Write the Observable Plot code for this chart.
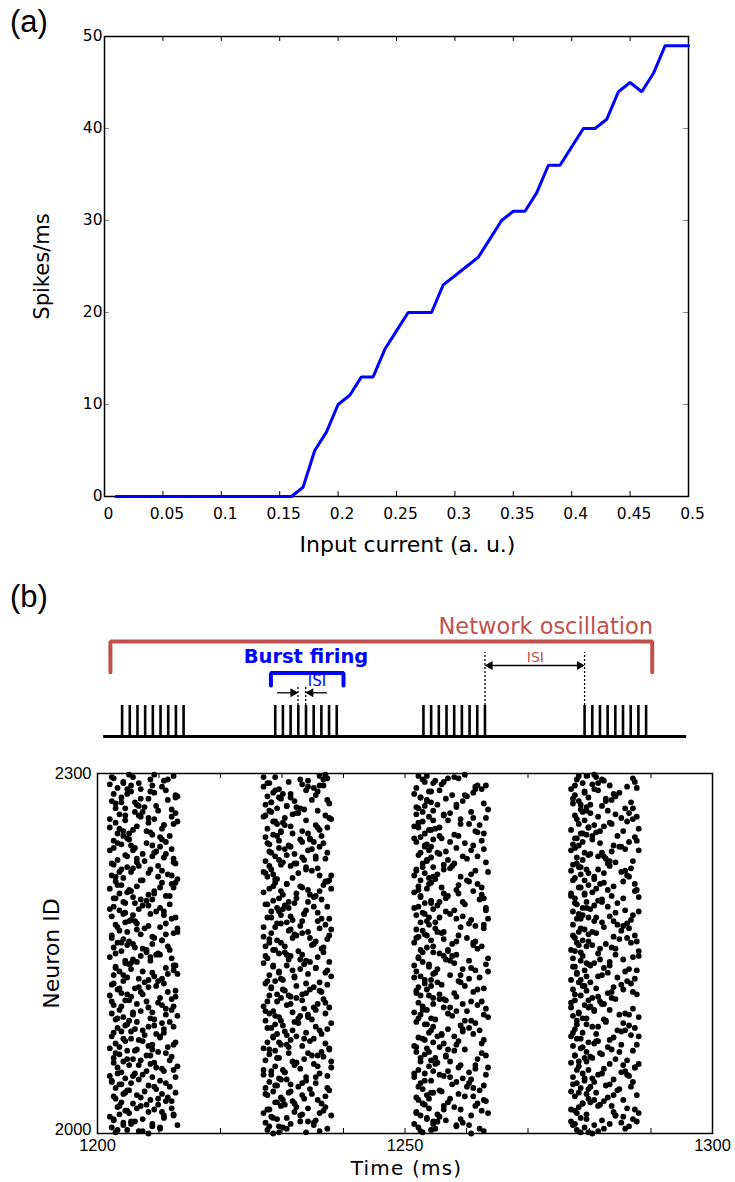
<!DOCTYPE html>
<html><head><meta charset="utf-8">
<script src="https://cdn.jsdelivr.net/npm/d3@7"></script>
<script src="https://cdn.jsdelivr.net/npm/@observablehq/plot@0.6"></script>
<style>
body{margin:0;background:#fff;}
#wrap{position:relative;width:735px;height:1182px;overflow:hidden;background:#fff;}
.panel{position:absolute;left:0;}
.tag{position:absolute;font-family:"Liberation Sans",Arial,sans-serif;font-size:31px;color:#000;line-height:1;}
</style></head><body>
<div id="wrap">
  <div class="tag" style="left:10px;top:6px">(a)</div>
  <div class="tag" style="left:10px;top:581px">(b)</div>
  <div class="panel" id="pa" style="top:0px"></div>
  <div class="panel" id="ps" style="top:600px"></div>
  <div class="panel" id="pr" style="top:745px"></div>
</div>
<script>
// ---------- Panel (a): firing rate vs input current ----------
const current = [0.01,0.02,0.03,0.04,0.05,0.06,0.07,0.08,0.09,0.10,0.11,0.12,0.13,0.14,0.15,0.16,0.17,0.18,0.19,0.20,
                 0.21,0.22,0.23,0.24,0.25,0.26,0.27,0.28,0.29,0.30,0.31,0.32,0.33,0.34,0.35,0.36,0.37,0.38,0.39,0.40,
                 0.41,0.42,0.43,0.44,0.45,0.46,0.47,0.48,0.49,0.50];
const rate = [0,0,0,0,0,0,0,0,0,0,0,0,0,0,0,0,1,5,7,10,
              11,13,13,16,18,20,20,20,23,24,25,26,28,30,31,31,33,36,36,38,
              40,40,41,44,45,44,46,49,49,49];
const xTicksA = [0,0.05,0.1,0.15,0.2,0.25,0.3,0.35,0.4,0.45,0.5];
const yTicksA = [0,10,20,30,40,50];

// ---------- Panel (b) schematic ----------
const schemSpikes = [
  1204.0,1205.25,1206.5,1207.75,1209.0,1210.25,1211.5,1212.75,1214.0,
  1228.9,1230.15,1231.4,1232.65,1233.9,1235.15,1236.4,1237.65,1238.9,
  1253.0,1254.25,1255.5,1256.75,1258.0,1259.25,1260.5,1261.75,1263.0,
  1279.2,1280.45,1281.7,1282.95,1284.2,1285.45,1286.7,1287.95,1289.2];
const schemBaseline = [1201.0, 1295.8];
const redBracket = [[1202.1,2.07],[1202.1,3.065],[1290.2,3.065],[1290.2,2.07]];
const blueBracket = [[1228.2,1.645],[1228.2,2.05],[1240.0,2.05],[1240.0,1.645]];
const dottedLines = [{x:1232.6,y1:1.0,y2:1.59},{x:1233.85,y1:1.0,y2:1.59},{x:1263.0,y1:1.0,y2:2.71},{x:1279.2,y1:1.0,y2:2.71}];
const arrowShafts = [{x1:1229.2,x2:1232.0,y:1.41},{x1:1237.3,x2:1234.4,y:1.41},{x1:1263.6,x2:1278.6,y:2.29}];
const headsRight = [{x:1232.6,y:1.41},{x:1279.2,y:2.29}];
const headsLeft = [{x:1233.85,y:1.41},{x:1263.0,y:2.29}];
const redLabels = ["Network oscillation","ISI"];
const redLabelX = [1272.9,1271.2];
const redLabelY = [3.31,2.40];
const blueLabels = ["Burst firing","ISI"];
const blueLabelX = [1233.9,1235.7];
const blueLabelY = [2.355,1.62];
const red = "#c0504d", blue = "#0000ff";

// ---------- Panel (b) raster ----------
// spike time of each neuron (2000 + index) within a burst, base-36 position across the burst window; '.' = no spike
const burstStart = [1202.0, 1227.0, 1251.5, 1277.0];
const burstWidth = [11.0, 11.0, 12.0, 11.0];
const firstSpike = [
 "k3f9q1mzb7d2hs0x5ar8nw4gjc6tlp"+"u2e7yi9o3vk5b1qf8m0hd6sxr4zaln"+"7gc2wj5tp9e0ukm3y8fbq1ios6hd4x"+"n9rva3l7zc1mg5tkx2epj8wqb0h6uy"+"4dfo1si7kr9n2zm5xbt3ya8elcw0gq"+
 "pj6vh2u9c4ar7nm1gxz5eiqk3t8dbw"+"y1sl8o5fq2hvd7jm3ctkn9ba0xe6wr"+"3gz7p1uk5rlc9f2yei4xsm8hno0wdq"+"b6jt2a9qvm4l7cr0esx3z8nkgf5yhp"+"w8ioe3d1uk6zy9nbtg4rm0f7sl2cxa",
 "5mt2xa8qe1jr7c4zk0gv3nh9bu6fsl"+"9w2pd5yo1i7ek3mc8rx0tb4ajz6gqh"+"f1l8vs3nu6y0dk9w2oeq5hc7mbtx4r"+"a6zg1pi8jn3f5rly0csw2kv9ed7mub"+"o4qhx1t6a9gz3nw8fjr5cl0ymd2sek"+
 "8bi5uv1pq3r7xo0hg4ndzt6jw9ckfy"+"2e9ls4ma7xb1gd5u8qroh0tn3kjvc6"+"wy7f2z5i0p4sme9ha1lrk6cgx3nb8t"+"d3vq8jo1u5n9kt2xer7a6mzb0wfi4s"+"l7hc1y4gp9e2ra5sm8q0vk3dnjx6tw",
 "r4x8a2kq0n9fm6c3bz1we7jt5ugy2h"+"1o6l9dv4spxi3k8rn0ec5qg2tz7mab"+"h8u3fy5w1jo6c0ke9lx42bds7nvgq9"+"m5t1ra8zi3g0p6yh4un2wfe9k7cjs1"+"6x2od5bl8qv3m9a1tnr70yj4hfz2ek"+
 "c9g3u6wsi0k8ep2l5db41xmt7qa6rz"+"7n1h4fj9y2bo5c8vx3gwe0sk6d2lu8"+"q3a7m0r5zt1h9ie4y6gp8n2cbf7xk5"+"s6o1w9d3lj5ut8ac0vq24gmy7e1hr9"+"z2k5bx8n6f3pi0s7cw1tud9ea4lj6o",
 "b9e3s7u1kq0gw5rn8zm2xt4lf6ahc9"+"j2y8d0op5vik3c7mb1ue6qs9hx4rz0"+"4tn7a2gf8wl5j1yc9ek3m0vd6qo2xb"+"u8ri3h6z1ps4ckw9a7g0f2nbe5yjl8"+"1dm6qv4t0xo8g3js7uh2a9ck5r1wzn"+
 "e5z0fl8bi3y6p2mx9d4q7uhr1tgcv5"+"9kw4n1sa6jc3o8eg2zl70bxyd5m9fh"+"r7c2ut5hq08v4k1jnw6i3e9aglzs2p"+"m1f6yb3xo85dr0z9hc4kt7wqe2nu6j"+"5s8ga1v4li9n2mp7e0ytkb6xh3wd8c"
];
const secondSpike = [
 "..h4.q.7m.b.2..sx.k9.e.5p..w.3"+"g..r8.a..n.6t.1..yc.4.j..o.f.2"+".v9..l.3.dm.5.x..h.7.q..2b.s.k"+"8..e.n4..t.c.w..6r..1a..y.9.g."+".5k..2.p.f..7u.h..3.x.b.8..l.o"+
 "3..j.d..m6.r.1..t.9..z4..e.a.."+"..c7.s.0..k.8..g2.v.5.n..q.4.y"+".h..3w..b.6..p.1x..e.9.t..c.2."+"m.4..r..7.a.j.5..s.k..0.w8..d."+".3.f..6..gy..2.l.9..b.7..u.1.n",
 ".8..c.3..qn..5.j.t..2.w..g7.a."+"..k1.e..x.6.r..9.m.4.b.0..s..h"+"z..7.p.d..3y..c.8..l.5.u..f.2."+"..i.9..n6.w.1..q..e.7..h.3k..t"+"a.4..m.2...g..8.x.r.5..o.j..1c"+
 ".v.6..b..9..3f.y.k..e.0..7.s.u"+"4..l.8..dq.2.n..h..a..9.z.5.c."+"x.6..t.1..m..3.g..8w.r..4..p.e"+"..2k.o..7.f.9..s.b..5..y.1.h.3"+".j.c..4.x.8..e..6..nt.2..v.0..",
 "..3.v..k9.b.6..r.1..m..e.4..x7"+".s..8.c..2..q.5..h.y0.9..l.t.."+"3..a.f..7.g.1..w..5..j.d..8n.."+".6..o.2..x..k4.e..9.r.c..3.1.."+"u..8..m.5.0.h..z.b...7..q.2.i."+
 ".4.g..9..st..1.6..e..a..x.3..k"+"c..5..y.0...8n..f.3.l..2.w..7."+".p..9.b..1e.4..j..6..u..3.r..8"+"5..h..0.c.x..7.2..m..9.s..e.4."+"..1.k..6..3.o..8.t..y..5..g.2.",
 ".5..h..c2.y.8..n.3..0..e.6..r."+"..m.4..9.a.1.w..7..tg..3.x..k."+"8..b.2..p...6.q..d.5.z..1.s..e"+".3..i.8..u4..c.0..h..9.l..2.w."+"r..7..a.5..e..3.y..1k.8..f..6."+
 "..2.n..4.v9..t.1..b..5..o..m.3"+"d.6..z..8...2g..r.0.7..j.4..x."+".1..c..9.se.5..3.k...h..7.0..q"+"4..u..2.b.6.f..9..l...3.y..a.8"+".w..5..i.1..n.7..c..2.e..g..4."
];
const xTicksR = [1200,1210,1220,1230,1240,1250,1260,1270,1280,1290,1300];
const xLabelsR = [1200,1250,1300];
const yLabelsR = [2000,2300];

const spikes = [];
for (let k = 0; k < burstStart.length; k++) {
  for (const s of [firstSpike[k], secondSpike[k]]) {
    for (let i = 0; i < s.length; i++) {
      if (s[i] === ".") continue;
      spikes.push({t: burstStart[k] + parseInt(s[i], 36) / 35 * burstWidth[k], id: 2000 + i});
    }
  }
}

const titleFont = "DejaVu Sans";

// ---------- draw (a) ----------
const pa = Plot.plot({
  width: 735, height: 570,
  marginTop: 36, marginBottom: 74, marginLeft: 104, marginRight: 47,
  x: {domain: [0, 0.5]}, y: {domain: [0, 50]},
  style: {fontFamily: "DejaVu Sans", fontSize: "15px", color: "#000", background: "transparent"},
  marks: [
    Plot.ruleX(xTicksA, {x: d => d, y1: () => 0, y2: () => 0, insetTop: -5, stroke: "#000"}),
    Plot.ruleX(xTicksA, {x: d => d, y1: () => 50, y2: () => 50, insetBottom: -5, stroke: "#000"}),
    Plot.ruleY(yTicksA, {y: d => d, x1: () => 0, x2: () => 0, insetRight: -5, stroke: "#888"}),
    Plot.ruleY(yTicksA, {y: d => d, x1: () => 0.5, x2: () => 0.5, insetLeft: -5, stroke: "#888"}),
    Plot.axisX(xTicksA, {tickSize: 0, tickPadding: 11, dx: 4, label: null, tickFormat: d => String(d), fontSize: 15.5}),
    Plot.axisY(yTicksA, {tickSize: 0, tickPadding: 2, label: null, tickFormat: d => String(d), fontSize: 15.5}),
    Plot.frame({stroke: "#000", strokeWidth: 1.5}),
    Plot.line(current.map((c, i) => ({c, r: rate[i]})), {x: "c", y: "r", stroke: blue, strokeWidth: 3, strokeLinejoin: "miter"}),
    Plot.text(["Input current (a. u.)"], {frameAnchor: "bottom", text: d => d, lineAnchor: "bottom", dy: 55, dx: 11, fontSize: 22, fontFamily: titleFont}),
    Plot.text(["Spikes/ms"], {frameAnchor: "left", textAnchor: "middle", text: d => d, lineAnchor: "bottom", rotate: -90, dx: -56, fontSize: 21, fontFamily: titleFont})
  ]
});
document.getElementById("pa").appendChild(pa);

// ---------- draw schematic ----------
const ps = Plot.plot({
  width: 735, height: 145,
  marginLeft: 97, marginRight: 23,
  x: {domain: [1200, 1300], axis: null},
  y: {domain: [0, 1], range: [136, 105], axis: null},
  style: {background: "transparent"},
  marks: [
    Plot.ruleY([0], {x1: schemBaseline[0], x2: schemBaseline[1], stroke: "#000", strokeWidth: 3}),
    Plot.ruleX(schemSpikes, {x: d => d, y1: () => 0, y2: () => 1, stroke: "#000", strokeWidth: 2.6}),
    Plot.line(redBracket, {x: d => d[0], y: d => d[1], stroke: red, strokeWidth: 4, strokeLinecap: "round", strokeLinejoin: "miter"}),
    Plot.line(blueBracket, {x: d => d[0], y: d => d[1], stroke: blue, strokeWidth: 4, strokeLinecap: "round", strokeLinejoin: "miter"}),
    Plot.ruleX(dottedLines, {x: "x", y1: "y1", y2: "y2", stroke: "#000", strokeWidth: 1.3, strokeDasharray: "2,2"}),
    Plot.link(arrowShafts, {x1: "x1", x2: "x2", y1: "y", y2: "y", stroke: "#000", strokeWidth: 1.3}),
    Plot.dot(headsRight, {x: "x", y: "y", rotate: 90, symbol: "triangle", r: 3.4, fill: "#000", stroke: "none", dx: -5}),
    Plot.dot(headsLeft, {x: "x", y: "y", rotate: -90, symbol: "triangle", r: 3.4, fill: "#000", stroke: "none", dx: 5}),
    Plot.text(redLabels, {x: (d, i) => redLabelX[i], y: (d, i) => redLabelY[i], text: d => d, lineAnchor: "bottom",
      fill: red, fontSize: (d, i) => [22.5, 14][i], fontFamily: titleFont}),
    Plot.text([blueLabels[0]], {x: () => blueLabelX[0], y: () => blueLabelY[0], text: d => d, lineAnchor: "bottom",
      fill: blue, fontSize: 19.5, fontWeight: "bold", fontFamily: titleFont}),
    Plot.text([blueLabels[1]], {x: () => blueLabelX[1], y: () => blueLabelY[1], text: d => d, lineAnchor: "bottom",
      fill: blue, fontSize: 15, fontFamily: titleFont})
  ]
});
document.getElementById("ps").appendChild(ps);

// ---------- draw raster ----------
const pr = Plot.plot({
  width: 735, height: 437,
  marginTop: 28, marginBottom: 49, marginLeft: 97, marginRight: 23,
  x: {domain: [1200, 1300]}, y: {domain: [2000, 2300]},
  style: {fontFamily: "Liberation Sans, Arial, sans-serif", fontSize: "16px", color: "#000", background: "transparent"},
  marks: [
    Plot.ruleX(xTicksR, {x: d => d, y1: () => 2000, y2: () => 2000, insetTop: -5, stroke: "#000"}),
    Plot.ruleX(xTicksR, {x: d => d, y1: () => 2300, y2: () => 2300, insetBottom: -5, stroke: "#000"}),
    Plot.axisX(xLabelsR, {tickSize: 0, tickPadding: 6, label: null, tickFormat: d => String(d), fontSize: 16.5}),
    Plot.axisY([yLabelsR[1]], {tickSize: 0, tickPadding: 6, label: null, tickFormat: d => String(d), fontSize: 16.5}),
    Plot.axisY([yLabelsR[0]], {tickSize: 0, tickPadding: 6, dy: -4, label: null, tickFormat: d => String(d), fontSize: 16.5}),
    Plot.dot(spikes, {x: "t", y: "id", r: 2.9, fill: "#000", stroke: "none"}),
    Plot.frame({stroke: "#000", strokeWidth: 1.5}),
    Plot.text(["Time (ms)"], {frameAnchor: "bottom", text: d => d, lineAnchor: "bottom", dy: 41, dx: 1.5, fontSize: 20, fontFamily: titleFont}),
    Plot.text(["Neuron ID"], {frameAnchor: "left", textAnchor: "middle", text: d => d, lineAnchor: "bottom", rotate: -90, dx: -39, fontSize: 22, fontFamily: titleFont})
  ]
});
d3.select(pr).selectAll("text").filter(function () { return this.textContent === "Time (ms)"; }).style("letter-spacing", "1.2px");
document.getElementById("pr").appendChild(pr);
</script>
</body></html>
